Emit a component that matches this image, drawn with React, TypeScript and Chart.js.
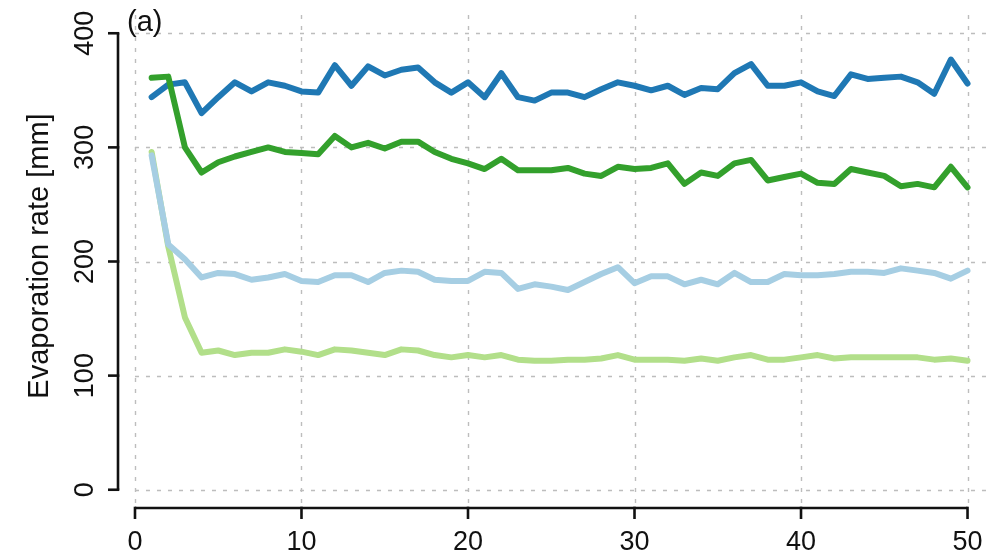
import React, { useEffect, useRef } from "react";
import { Chart, registerables } from "chart.js";

Chart.register(...registerables);

const xValues = [
  1, 2, 3, 4, 5, 6, 7, 8, 9, 10, 11, 12, 13, 14, 15, 16, 17, 18, 19, 20, 21, 22, 23, 24, 25,
  26, 27, 28, 29, 30, 31, 32, 33, 34, 35, 36, 37, 38, 39, 40, 41, 42, 43, 44, 45, 46, 47, 48, 49, 50,
];

const darkBlue = [
  344, 355, 357, 330, 344, 357, 349, 357, 354, 349, 348, 372, 354, 371, 363, 368, 370, 357, 348, 357,
  344, 365, 344, 341, 348, 348, 344, 351, 357, 354, 350, 354, 346, 352, 351, 365, 373, 354, 354, 357,
  349, 345, 364, 360, 361, 362, 357, 347, 377, 356,
];

const darkGreen = [
  361, 362, 300, 278, 287, 292, 296, 300, 296, 295, 294, 310, 300, 304, 299, 305, 305, 296, 290, 286,
  281, 290, 280, 280, 280, 282, 277, 275, 283, 281, 282, 286, 268, 278, 275, 286, 289, 271, 274, 277,
  269, 268, 281, 278, 275, 266, 268, 265, 283, 265,
];

const lightBlue = [
  293, 215, 202, 186, 190, 189, 184, 186, 189, 183, 182, 188, 188, 182, 190, 192, 191, 184, 183, 183,
  191, 190, 176, 180, 178, 175, 182, 189, 195, 181, 187, 187, 180, 184, 180, 190, 182, 182, 189, 188,
  188, 189, 191, 191, 190, 194, 192, 190, 185, 192,
];

const lightGreen = [
  296, 213, 151, 120, 122, 118, 120, 120, 123, 121, 118, 123, 122, 120, 118, 123, 122, 118, 116, 118,
  116, 118, 114, 113, 113, 114, 114, 115, 118, 114, 114, 114, 113, 115, 113, 116, 118, 114, 114, 116,
  118, 115, 116, 116, 116, 116, 116, 114, 115, 113,
];

const xTicks = [0, 10, 20, 30, 40, 50];
const yTicks = [0, 100, 200, 300, 400];
const yTitle = "Evaporation rate [mm]";
const panelLabel = "(a)";

const FONT = '"Liberation Sans", Arial, Helvetica, sans-serif';

const rAxesPlugin = {
  id: "rAxes",
  beforeDatasetsDraw(chart: any) {
    const { ctx, chartArea } = chart;
    const xs = chart.scales.x;
    const ys = chart.scales.y;
    ctx.save();
    ctx.strokeStyle = "#bdbdbd";
    ctx.lineWidth = 1.4;
    ctx.setLineDash([4, 7]);
    for (const t of xTicks) {
      const px = Math.round(xs.getPixelForValue(t)) + 0.5;
      ctx.beginPath();
      ctx.moveTo(px, chartArea.top);
      ctx.lineTo(px, chartArea.bottom);
      ctx.stroke();
    }
    const x0 = xs.getPixelForValue(0);
    for (const t of yTicks) {
      const py = Math.round(ys.getPixelForValue(t)) + 0.5;
      ctx.beginPath();
      ctx.moveTo(x0, py);
      ctx.lineTo(chartArea.right, py);
      ctx.stroke();
    }
    ctx.restore();
  },
  afterDatasetsDraw(chart: any) {
    const { ctx, chartArea } = chart;
    const xs = chart.scales.x;
    const ys = chart.scales.y;
    ctx.save();
    ctx.strokeStyle = "#111";
    ctx.fillStyle = "#111";
    ctx.lineWidth = 2.6;
    ctx.setLineDash([]);
    ctx.lineCap = "butt";

    // y axis
    const axX = chartArea.left - 1;
    const yTop = ys.getPixelForValue(yTicks[yTicks.length - 1]);
    const yBot = ys.getPixelForValue(yTicks[0]);
    ctx.beginPath();
    ctx.moveTo(axX, yTop);
    ctx.lineTo(axX, yBot);
    ctx.stroke();
    for (const t of yTicks) {
      const py = ys.getPixelForValue(t);
      ctx.beginPath();
      ctx.moveTo(axX + 1.3, py);
      ctx.lineTo(axX - 10, py);
      ctx.stroke();
    }
    ctx.font = `27px ${FONT}`;
    ctx.textAlign = "center";
    ctx.textBaseline = "alphabetic";
    for (const t of yTicks) {
      const py = ys.getPixelForValue(t);
      ctx.save();
      ctx.translate(93, py);
      ctx.rotate(-Math.PI / 2);
      ctx.fillText(String(t), 0, 0);
      ctx.restore();
    }

    // x axis
    const axY = chartArea.bottom;
    const xL = xs.getPixelForValue(xTicks[0]);
    const xR = xs.getPixelForValue(xTicks[xTicks.length - 1]);
    ctx.beginPath();
    ctx.moveTo(xL, axY);
    ctx.lineTo(xR, axY);
    ctx.stroke();
    for (const t of xTicks) {
      const px = xs.getPixelForValue(t);
      ctx.beginPath();
      ctx.moveTo(px, axY - 1.3);
      ctx.lineTo(px, axY + 11);
      ctx.stroke();
    }
    for (const t of xTicks) {
      const px = xs.getPixelForValue(t);
      ctx.fillText(String(t), px, 550);
    }

    // y title
    ctx.font = `29px ${FONT}`;
    ctx.save();
    ctx.translate(48, 256);
    ctx.rotate(-Math.PI / 2);
    ctx.fillText(yTitle, 0, 0);
    ctx.restore();

    // panel label
    ctx.font = `29px ${FONT}`;
    ctx.textAlign = "left";
    ctx.fillText(panelLabel, 127, 31);
    ctx.restore();
  },
};

function toPoints(vals: number[]) {
  return xValues.map((x, i) => ({ x, y: vals[i] }));
}

export default function App() {
  const canvasRef = useRef<HTMLCanvasElement | null>(null);

  useEffect(() => {
    const canvas = canvasRef.current;
    if (!canvas) return;
    const lineBase = {
      borderWidth: 6,
      pointRadius: 0,
      tension: 0,
      borderJoinStyle: "round" as const,
      borderCapStyle: "round" as const,
      fill: false,
    };
    const chart = new Chart(canvas, {
      type: "line",
      data: {
        datasets: [
          { ...lineBase, label: "dark green", data: toPoints(darkGreen), borderColor: "#33A02C" },
          { ...lineBase, label: "dark blue", data: toPoints(darkBlue), borderColor: "#1F78B4" },
          { ...lineBase, label: "light blue", data: toPoints(lightBlue), borderColor: "#A6CEE3" },
          { ...lineBase, label: "light green", data: toPoints(lightGreen), borderColor: "#B2DF8A" },
        ],
      },
      options: {
        animation: false,
        responsive: false,
        maintainAspectRatio: false,
        layout: { padding: { left: 119, top: 15, right: 0, bottom: 49 } },
        scales: {
          x: { type: "linear", min: -0.96, max: 51.29, display: false },
          y: { type: "linear", min: -16, max: 416, display: false },
        },
        plugins: {
          legend: { display: false },
          tooltip: { enabled: false },
        },
      },
      plugins: [rAxesPlugin],
    });
    return () => chart.destroy();
  }, []);

  return (
    <div style={{ position: "fixed", left: 0, top: 0, width: 989, height: 557, background: "#fff" }}>
      <canvas ref={canvasRef} width={989} height={557} style={{ display: "block" }} />
    </div>
  );
}
